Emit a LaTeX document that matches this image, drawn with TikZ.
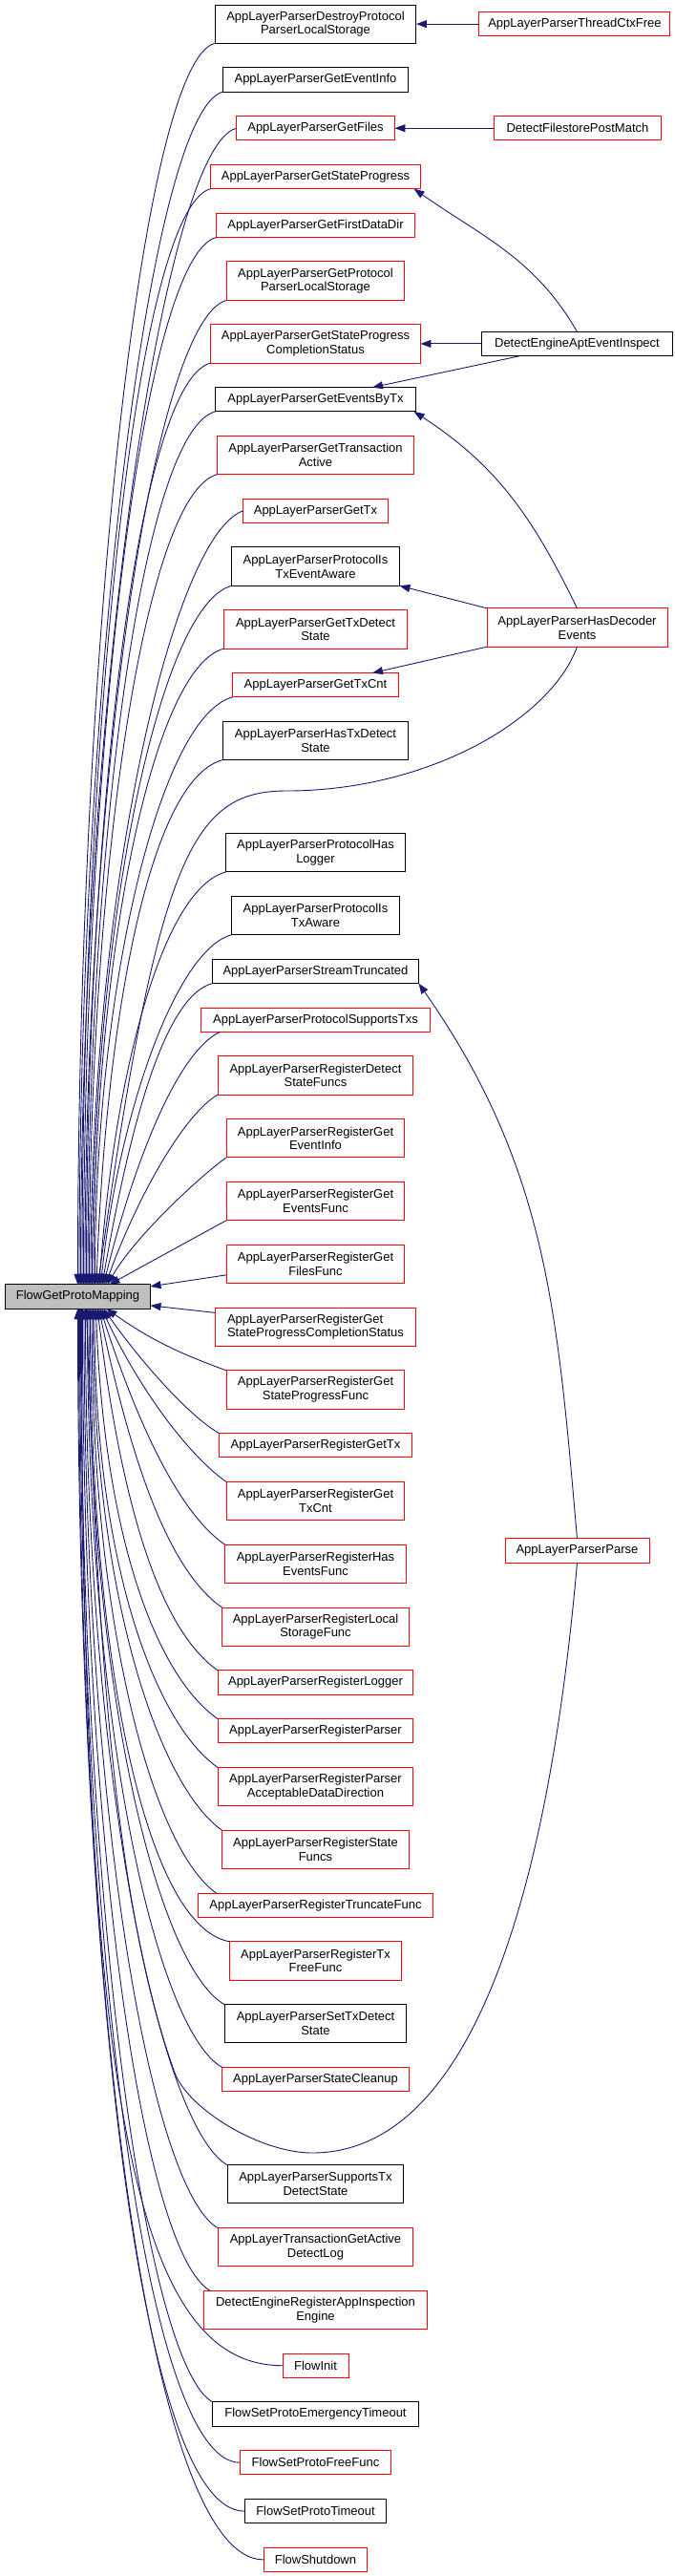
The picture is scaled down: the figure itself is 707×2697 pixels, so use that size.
\documentclass[tikz,border=0pt]{standalone}
\usepackage{fontspec}
\setmainfont{Liberation Sans}
\usetikzlibrary{arrows.meta,positioning}
\definecolor{edgeblue}{RGB}{25,25,112}
\definecolor{callred}{RGB}{255,0,0}
\definecolor{curgray}{RGB}{191,191,191}

\begin{document}
\begin{tikzpicture}[
    x=0.1pt, y=0.1pt,
    fn/.style={draw=#1, line width=0.1pt, minimum height=2.53pt, inner sep=0pt, outer sep=0pt, align=center, font=\fontsize{1.3pt}{1.47pt}\selectfont},
    fn/.default=black,
    two/.style={minimum height=4.03pt},
    arr/.style={-{Triangle[length=1.1pt,width=0.8pt]}, draw=edgeblue, line width=0.09pt}
]
\useasboundingbox (0,0) rectangle (707,-2697);

% Function itself
\node[fn, fill=curgray, minimum width=15.2pt] (fgpm) at (81.5,-1357.5) {FlowGetProtoMapping};

% Callers
\node[fn, two, minimum width=21.1pt] (dpl) at (330.5,-25.15) {AppLayerParserDestroyProtocol\\ParserLocalStorage};
\node[fn, minimum width=19.4pt, below=2.55pt of dpl] (gei) {AppLayerParserGetEventInfo};
\node[fn=callred, minimum width=16.6pt, below=2.55pt of gei] (gf) {AppLayerParserGetFiles};
\node[fn=callred, minimum width=22pt, below=2.55pt of gf] (gsp) {AppLayerParserGetStateProgress};
\node[fn=callred, minimum width=20.8pt, below=2.55pt of gsp] (gfdd) {AppLayerParserGetFirstDataDir};
\node[fn=callred, two, minimum width=18.6pt, below=2.55pt of gfdd] (gppls) {AppLayerParserGetProtocol\\ParserLocalStorage};
\node[fn=callred, two, minimum width=22pt, below=2.55pt of gppls] (gspcs) {AppLayerParserGetStateProgress\\CompletionStatus};
\node[fn, minimum width=21pt, below=2.55pt of gspcs] (gebt) {AppLayerParserGetEventsByTx};
\node[fn=callred, two, minimum width=20.6pt, below=2.55pt of gebt] (gta) {AppLayerParserGetTransaction\\Active};
\node[fn=callred, minimum width=15.2pt, below=2.55pt of gta] (gtx) {AppLayerParserGetTx};
\node[fn, two, minimum width=17.6pt, below=2.55pt of gtx] (pitea) {AppLayerParserProtocolIs\\TxEventAware};
\node[fn=callred, two, minimum width=19.2pt, below=2.55pt of pitea] (gtds) {AppLayerParserGetTxDetect\\State};
\node[fn=callred, minimum width=17.4pt, below=2.55pt of gtds] (gtc) {AppLayerParserGetTxCnt};
\node[fn, two, minimum width=19.5pt, below=2.55pt of gtc] (htds) {AppLayerParserHasTxDetect\\State};
\node[fn, two, minimum width=18.8pt, below=7.7pt of htds] (phl) {AppLayerParserProtocolHas\\Logger};
\node[fn, two, minimum width=17.6pt, below=2.55pt of phl] (pita) {AppLayerParserProtocolIs\\TxAware};
\node[fn, minimum width=21.6pt, below=2.55pt of pita] (st) {AppLayerParserStreamTruncated};
\node[fn=callred, minimum width=24pt, below=2.55pt of st] (pst) {AppLayerParserProtocolSupportsTxs};
\node[fn=callred, two, minimum width=20.5pt, below=2.55pt of pst] (rdsf) {AppLayerParserRegisterDetect\\StateFuncs};
\node[fn=callred, two, minimum width=18.7pt, below=2.55pt of rdsf] (rgei) {AppLayerParserRegisterGet\\EventInfo};
\node[fn=callred, two, minimum width=18.7pt, below=2.55pt of rgei] (rgef) {AppLayerParserRegisterGet\\EventsFunc};
\node[fn=callred, two, minimum width=18.7pt, below=2.55pt of rgef] (rgff) {AppLayerParserRegisterGet\\FilesFunc};
\node[fn=callred, two, minimum width=21.1pt, align=left, below=2.55pt of rgff] (rgspcs) {AppLayerParserRegisterGet\\StateProgressCompletionStatus};
\node[fn=callred, two, minimum width=18.7pt, below=2.55pt of rgspcs] (rgspf) {AppLayerParserRegisterGet\\StateProgressFunc};
\node[fn=callred, minimum width=20.2pt, below=2.55pt of rgspf] (rgtx) {AppLayerParserRegisterGetTx};
\node[fn=callred, two, minimum width=18.7pt, below=2.55pt of rgtx] (rgtc) {AppLayerParserRegisterGet\\TxCnt};
\node[fn=callred, two, minimum width=19pt, below=2.55pt of rgtc] (rhef) {AppLayerParserRegisterHas\\EventsFunc};
\node[fn=callred, two, minimum width=19.6pt, below=2.55pt of rhef] (rlsf) {AppLayerParserRegisterLocal\\StorageFunc};
\node[fn=callred, minimum width=20.5pt, below=2.55pt of rlsf] (rlog) {AppLayerParserRegisterLogger};
\node[fn=callred, minimum width=20.5pt, below=2.55pt of rlog] (rpar) {AppLayerParserRegisterParser};
\node[fn=callred, two, minimum width=20.5pt, below=2.55pt of rpar] (rpadd) {AppLayerParserRegisterParser\\AcceptableDataDirection};
\node[fn=callred, two, minimum width=19.6pt, below=2.55pt of rpadd] (rsf) {AppLayerParserRegisterState\\Funcs};
\node[fn=callred, minimum width=24.6pt, below=2.55pt of rsf] (rtf) {AppLayerParserRegisterTruncateFunc};
\node[fn=callred, two, minimum width=18pt, below=2.55pt of rtf] (rtff) {AppLayerParserRegisterTx\\FreeFunc};
\node[fn, two, minimum width=19.1pt, below=2.55pt of rtff] (stds) {AppLayerParserSetTxDetect\\State};
\node[fn=callred, minimum width=19.6pt, below=2.55pt of stds] (sc) {AppLayerParserStateCleanup};
\node[fn, two, minimum width=18.5pt, below=7.7pt of sc] (stxds) {AppLayerParserSupportsTx\\DetectState};
\node[fn=callred, two, minimum width=20.5pt, below=2.55pt of stxds] (tgadl) {AppLayerTransactionGetActive\\DetectLog};
\node[fn=callred, two, minimum width=23.5pt, below=2.55pt of tgadl] (derai) {DetectEngineRegisterAppInspection\\Engine};
\node[fn=callred, minimum width=6.9pt, below=2.55pt of derai] (fi) {FlowInit};
\node[fn, minimum width=21.6pt, below=2.55pt of fi] (fspet) {FlowSetProtoEmergencyTimeout};
\node[fn=callred, minimum width=15.8pt, below=2.55pt of fspet] (fspff) {FlowSetProtoFreeFunc};
\node[fn, minimum width=14.9pt, below=2.55pt of fspff] (fspt) {FlowSetProtoTimeout};
\node[fn=callred, minimum width=10.9pt, below=2.55pt of fspt] (fsd) {FlowShutdown};

% Second level callers
\node[fn=callred, minimum width=20pt, right=6.6pt of dpl] (tcf) {AppLayerParserThreadCtxFree};
\node[fn=callred, minimum width=17.5pt, right=10.4pt of gf] (dfpm) {DetectFilestorePostMatch};
\node[fn, minimum width=20pt, right=6.4pt of gspcs] (deaei) {DetectEngineAptEventInspect};
\node[fn=callred, two, minimum width=18.9pt] (hde) at (604.5,-657) {AppLayerParserHasDecoder\\Events};
\node[fn=callred, minimum width=15.1pt] (parse) at (604.5,-1623.5) {AppLayerParserParse};

\coordinate (hdevia) at (300,-828);
\coordinate (parsevia) at (327,-2254);
\coordinate (parsebend) at (183,-2170);

% Edges into FlowGetProtoMapping from above
\draw[arr] (dpl.south west) to[out=195,in=90,out distance=8pt,in distance=65pt] (fgpm.north);
\draw[arr] (gei.south west) to[out=195,in=90,out distance=8pt,in distance=62.4pt] ([xshift=0.15pt]fgpm.north);
\draw[arr] (gf.west) to[out=195,in=90,out distance=8pt,in distance=60pt] ([xshift=0.3pt]fgpm.north);
\draw[arr] (gsp.south west) to[out=195,in=90,out distance=8pt,in distance=57.5pt] ([xshift=0.45pt]fgpm.north);
\draw[arr] (gfdd.south west) to[out=195,in=90,out distance=8pt,in distance=55pt] ([xshift=0.6pt]fgpm.north);
\draw[arr] (gppls.south west) to[out=195,in=90,out distance=8pt,in distance=51.5pt] ([xshift=0.75pt]fgpm.north);
\draw[arr] (gspcs.south west) to[out=195,in=90,out distance=8pt,in distance=48pt] ([xshift=0.9pt]fgpm.north);
\draw[arr] (gebt.south west) to[out=195,in=90,out distance=8pt,in distance=45.5pt] ([xshift=1.05pt]fgpm.north);
\draw[arr] (gta.south west) to[out=195,in=90,out distance=8pt,in distance=42.5pt] ([xshift=1.2pt]fgpm.north);
\draw[arr] (gtx.west) to[out=200,in=90,out distance=8pt,in distance=40.5pt] ([xshift=1.35pt]fgpm.north);
\draw[arr] (pitea.south west) to[out=195,in=90,out distance=8pt,in distance=36.5pt] ([xshift=1.5pt]fgpm.north);
\draw[arr] (gtds.south west) to[out=195,in=90,out distance=8pt,in distance=33pt] ([xshift=1.65pt]fgpm.north);
\draw[arr] (gtc.south west) to[out=195,in=90,out distance=8pt,in distance=30.5pt] ([xshift=1.8pt]fgpm.north);
\draw[arr] (htds.south west) to[out=195,in=88,out distance=8pt,in distance=27.5pt] ([xshift=1.95pt]fgpm.north);
\draw[arr] (hde.south) to[out=-110,in=0,out distance=8pt,in distance=15pt] (hdevia) to[out=180,in=82,out distance=10pt,in distance=45pt] ([xshift=2.1pt]fgpm.north);
\draw[arr] (phl.south west) to[out=195,in=86,out distance=7pt,in distance=21.5pt] ([xshift=2.25pt]fgpm.north);
\draw[arr] (pita.south west) to[out=195,in=84,out distance=6pt,in distance=18pt] ([xshift=2.4pt]fgpm.north);
\draw[arr] (st.south west) to[out=195,in=80,out distance=5.5pt,in distance=15.5pt] ([xshift=2.55pt]fgpm.north);
\draw[arr] ([xshift=2pt]pst.south west) to[out=205,in=76,out distance=5pt,in distance=13pt] ([xshift=2.7pt]fgpm.north);
\draw[arr] (rdsf.south west) to[out=210,in=70,out distance=4pt,in distance=10pt] ([xshift=2.9pt]fgpm.north);
\draw[arr] (rgei.south west) to[out=215,in=60,out distance=3pt,in distance=6pt] ([xshift=3.1pt]fgpm.north);
\draw[arr] (rgef.south west) -- ([xshift=3.3pt]fgpm.north);
\draw[arr] (rgff.187) -- (fgpm.8);
\draw[arr] (rgspcs.172) -- (fgpm.-7);

% Edges into FlowGetProtoMapping from below
\draw[arr] (rgspf.north west) to[out=160,in=-35] ([xshift=3pt]fgpm.south);
\draw[arr] (rgtx.north west) to[out=150,in=-55,out distance=4pt,in distance=6pt] ([xshift=2.7pt]fgpm.south);
\draw[arr] (rgtc.north west) to[out=145,in=-65,out distance=5pt,in distance=9pt] ([xshift=2.5pt]fgpm.south);
\draw[arr] (rhef.north west) to[out=145,in=-72,out distance=6pt,in distance=12.5pt] ([xshift=2.35pt]fgpm.south);
\draw[arr] (rlsf.north west) to[out=145,in=-78,out distance=7pt,in distance=16pt] ([xshift=2.2pt]fgpm.south);
\draw[arr] (rlog.north west) to[out=145,in=-83,out distance=8pt,in distance=19pt] ([xshift=2.05pt]fgpm.south);
\draw[arr] (rpar.north west) to[out=145,in=-88,out distance=8pt,in distance=23.5pt] ([xshift=1.9pt]fgpm.south);
\draw[arr] (rpadd.north west) to[out=145,in=-90,out distance=8pt,in distance=26.5pt] ([xshift=1.75pt]fgpm.south);
\draw[arr] (rsf.north west) to[out=145,in=-90,out distance=8pt,in distance=30pt] ([xshift=1.6pt]fgpm.south);
\draw[arr] ([xshift=1.9pt]rtf.north west) to[out=145,in=-90,out distance=8pt,in distance=33.5pt] ([xshift=1.45pt]fgpm.south);
\draw[arr] (rtff.north west) to[out=170,in=-90,out distance=9pt,in distance=36.5pt] ([xshift=1.3pt]fgpm.south);
\draw[arr] (stds.north west) to[out=150,in=-90,out distance=8pt,in distance=40pt] ([xshift=1.15pt]fgpm.south);
\draw[arr] (sc.north west) to[out=150,in=-90,out distance=8pt,in distance=43.5pt] ([xshift=1pt]fgpm.south);
\draw[arr] (parse.south) to[out=-95,in=0,out distance=40pt,in distance=15pt] (parsevia) to[out=180,in=-70,out distance=5.5pt,in distance=4pt] (parsebend) to[out=110,in=-88,out distance=20pt,in distance=30pt] ([xshift=0.9pt]fgpm.south);
\draw[arr] (stxds.north west) to[out=150,in=-90,out distance=8pt,in distance=49.5pt] ([xshift=0.8pt]fgpm.south);
\draw[arr] (tgadl.north west) to[out=150,in=-90,out distance=8pt,in distance=53pt] ([xshift=0.65pt]fgpm.south);
\draw[arr] ([xshift=0.7pt]derai.north west) to[out=150,in=-90,out distance=8pt,in distance=56.5pt] ([xshift=0.5pt]fgpm.south);
\draw[arr] (fi.west) to[out=180,in=-90,out distance=15pt,in distance=85pt] ([xshift=0.4pt]fgpm.south);
\draw[arr] (fspet.north west) to[out=150,in=-90,out distance=8pt,in distance=63pt] ([xshift=0.3pt]fgpm.south);
\draw[arr] (fspff.west) to[out=180,in=-90,out distance=10pt,in distance=66.5pt] ([xshift=0.2pt]fgpm.south);
\draw[arr] (fspt.west) to[out=180,in=-90,out distance=11pt,in distance=69pt] ([xshift=0.1pt]fgpm.south);
\draw[arr] (fsd.west) to[out=180,in=-90,out distance=12pt,in distance=72pt] (fgpm.south);

% Second level edges
\draw[arr] (tcf) -- (dpl);
\draw[arr] (dfpm) -- (gf);
\draw[arr] (deaei.north) to[out=120,in=-35] (gsp.-7);
\draw[arr] (deaei) -- (gspcs);
\draw[arr] (deaei.192) -- (gebt.12);
\draw[arr] (hde.north) to[out=116,in=-33] (gebt.-7);
\draw[arr] (hde.north west) -- (pitea.south east);
\draw[arr] (hde.south west) -- (gtc.12);
\draw[arr] (parse.north) to[out=95,in=-55] (st.south east);
\end{tikzpicture}
\end{document}
